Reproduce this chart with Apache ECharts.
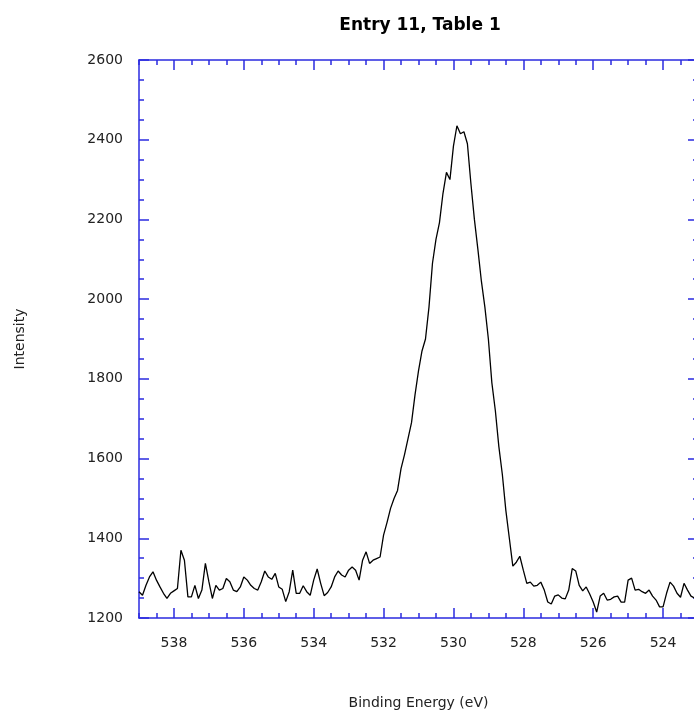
<!DOCTYPE html>
<html>
<head>
<meta charset="utf-8">
<title>Entry 11, Table 1</title>
<script src="https://cdn.jsdelivr.net/npm/echarts@6/dist/echarts.min.js"></script>
<style>
  html, body { margin: 0; padding: 0; background: #fff; }
  #main { width: 694px; height: 716px; }
</style>
</head>
<body>
<div id="main"></div>
<script>
// XPS O 1s scan, sampled every 0.1 eV from 539.0 down to 523.0
const startEnergy = 539.0;
const stepEnergy = 0.1;
const intensity = [
  1266, 1257, 1282, 1303, 1316, 1295, 1278, 1262, 1249, 1262,
  1268, 1274, 1370, 1345, 1253, 1253, 1282, 1249, 1270, 1337,
  1291, 1249, 1282, 1270, 1274, 1299, 1291, 1270, 1266, 1278,
  1303, 1295, 1282, 1274, 1270, 1291, 1318, 1303, 1297, 1312,
  1278, 1272, 1241, 1266, 1320, 1262, 1262, 1281, 1266, 1257,
  1295, 1323, 1287, 1256, 1264, 1278, 1303, 1318, 1308, 1303,
  1320, 1328, 1320, 1295, 1345, 1366, 1337, 1345, 1349, 1353,
  1408, 1440, 1475, 1500, 1520, 1575, 1610, 1650, 1690, 1760,
  1820, 1870, 1900, 1980, 2090, 2150, 2192, 2265, 2318, 2300,
  2384, 2435, 2415, 2420, 2390, 2290, 2200, 2125, 2045, 1980,
  1900, 1790, 1720, 1630, 1560, 1470, 1400, 1330, 1340, 1355,
  1320, 1287, 1290, 1280, 1282, 1290, 1270, 1240, 1235, 1255,
  1258, 1250, 1248, 1270, 1324, 1318, 1282, 1268, 1278, 1260,
  1240, 1215, 1255, 1262, 1245, 1247, 1253, 1255, 1240, 1240,
  1295, 1300, 1270, 1272, 1266, 1262, 1270, 1255, 1245, 1228,
  1228, 1262, 1290, 1280, 1262, 1252, 1287, 1270, 1255, 1250,
  1260
];
const xTicks = [538, 536, 534, 532, 530, 528, 526, 524];
const yTicks = [1200, 1400, 1600, 1800, 2000, 2200, 2400, 2600];

const energy = intensity.map((v, i) => +(startEnergy - i * stepEnergy).toFixed(1));
const points = intensity.map((v, i) => [energy[i], v]);

const blue = '#2b2be0';
const font = 'DejaVu Sans';
const tickLine = { color: blue, width: 1.5 };

// x axis: one axis for the labelled 2 eV ticks, one for the 0.5 eV small ticks
function xAxisPair(position, withLabels) {
  const major = {
    type: 'value', position: position, min: 523, max: 539, inverse: true,
    axisLine: { show: true, onZero: false, lineStyle: tickLine },
    axisTick: { show: true, inside: true, length: 10, lineStyle: tickLine, customValues: xTicks },
    splitLine: { show: false },
    axisLabel: withLabels ? {
      margin: 18, fontFamily: font, fontSize: 14, color: '#222',
      customValues: xTicks,
      formatter: v => String(v)
    } : { show: false }
  };
  if (withLabels) {
    major.name = 'Binding Energy (eV)';
    major.nameLocation = 'middle';
    major.nameGap = 78;
    major.nameTextStyle = { fontFamily: font, fontSize: 14, color: '#222' };
  }
  const minor = {
    type: 'value', position: position, min: 523, max: 539, interval: 0.5, inverse: true,
    axisLine: { show: false, onZero: false },
    axisTick: { show: true, inside: true, length: 5, lineStyle: tickLine },
    axisLabel: { show: false },
    splitLine: { show: false }
  };
  return [major, minor];
}

function yAxisFrame(position, withLabels) {
  const ax = {
    type: 'value', position: position, min: 1200, max: 2600, interval: 200,
    axisLine: { show: true, onZero: false, lineStyle: tickLine },
    axisTick: { show: true, inside: true, length: 10, lineStyle: tickLine },
    minorTick: { show: true, splitNumber: 4, length: 5, lineStyle: tickLine },
    splitLine: { show: false },
    axisLabel: withLabels ? {
      margin: 16, fontFamily: font, fontSize: 14, color: '#222',
      formatter: v => String(v)
    } : { show: false }
  };
  if (withLabels) {
    ax.name = 'Intensity';
    ax.nameLocation = 'middle';
    ax.nameGap = 112;
    ax.nameRotate = 90;
    ax.nameTextStyle = { fontFamily: font, fontSize: 14, color: '#222' };
  }
  return ax;
}

const chart = echarts.init(document.getElementById('main'));
chart.setOption({
  animation: false,
  backgroundColor: '#fff',
  title: {
    text: 'Entry 11, Table 1',
    left: 415,
    top: 12,
    textAlign: 'center',
    textStyle: { fontFamily: font, fontSize: 17, fontWeight: 'bold', color: '#000' }
  },
  grid: { left: 139, top: 60, width: 559, height: 558, outerBoundsMode: 'none' },
  xAxis: xAxisPair('bottom', true).concat(xAxisPair('top', false)),
  yAxis: [yAxisFrame('left', true), yAxisFrame('right', false)],
  series: [{
    type: 'line',
    xAxisIndex: 0,
    yAxisIndex: 0,
    data: points,
    showSymbol: false,
    lineStyle: { color: '#000', width: 1.3 },
    clip: true
  }]
});
</script>
</body>
</html>
